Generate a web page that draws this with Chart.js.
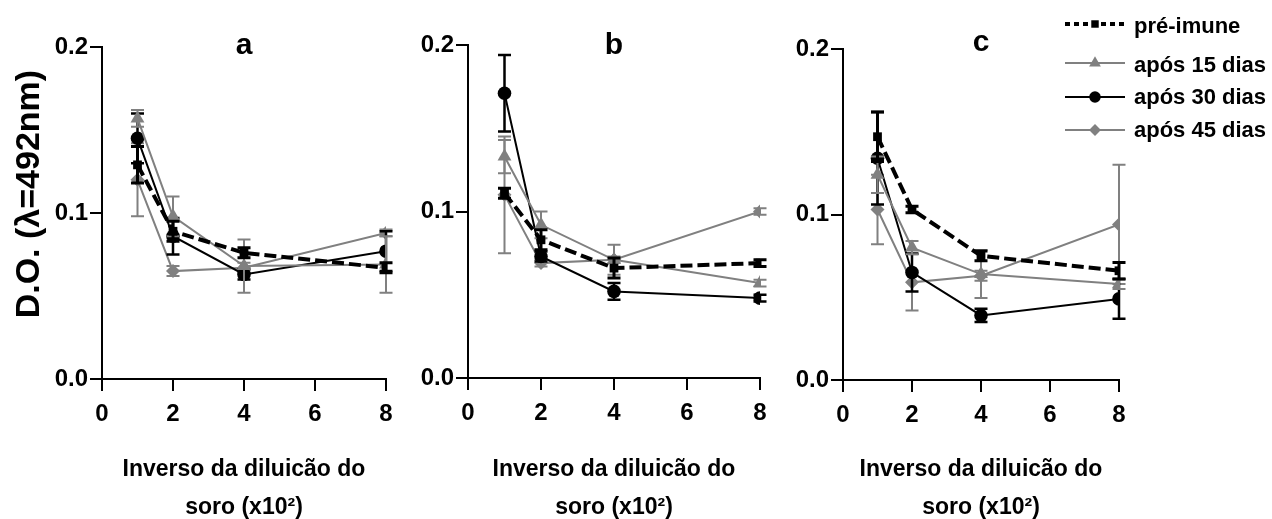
<!DOCTYPE html>
<html>
<head>
<meta charset="utf-8">
<script src="https://cdn.jsdelivr.net/npm/chart.js@4.4.1/dist/chart.umd.min.js"></script>
<style>
html, body { margin: 0; padding: 0; background: #fff; overflow: hidden; width: 1272px; height: 519px; }
.panel { position: absolute; top: 0; }
</style>
</head>
<body>
<canvas id="panelA" class="panel" style="left:0px" width="420" height="530"></canvas>
<canvas id="panelB" class="panel" style="left:410px" width="390" height="530"></canvas>
<canvas id="panelC" class="panel" style="left:790px" width="482" height="530"></canvas>
<script>
// ---------- data ----------
const X_VALUES = [1, 2, 4, 8];
const X_TICKS = [0, 2, 4, 6, 8];
const Y_TICKS = [0.0, 0.1, 0.2];
const SERIES_NAMES = ['pré-imune', 'após 15 dias', 'após 30 dias', 'após 45 dias'];
const PANEL_TITLES = ['a', 'b', 'c'];
const Y_TITLE = 'D.O. (λ=492nm)';
const X_TITLE = ['Inverso da diluicão do', 'soro (x10²)'];

// panel a
const A_PRE = [0.129, 0.089, 0.076, 0.067];
const A_PRE_ERR = [0.011, 0.006, 0.003, 0.003];
const A_D15 = [0.157, 0.098, 0.068, 0.069];
const A_D15_ERR = [0.005, 0.012, 0.016, 0.017];
const A_D30 = [0.145, 0.086, 0.063, 0.077];
const A_D30_ERR = [0.015, 0.011, 0.003, 0.012];
const A_D45 = [0.120, 0.065, 0.067, 0.088];
const A_D45_ERR = [0.022, 0.003, 0.003, 0.002];

// panel b
const B_PRE = [0.111, 0.083, 0.066, 0.069];
const B_PRE_ERR = [0.003, 0.006, 0.006, 0.002];
const B_D15 = [0.133, 0.092, 0.071, 0.057];
const B_D15_ERR = [0.010, 0.008, 0.009, 0.002];
const B_D30 = [0.171, 0.073, 0.052, 0.048];
const B_D30_ERR = [0.023, 0.003, 0.005, 0.002];
const B_D45 = [0.110, 0.069, 0.071, 0.100];
const B_D45_ERR = [0.035, 0.002, 0.002, 0.002];

// panel c
const C_PRE = [0.147, 0.103, 0.075, 0.066];
const C_PRE_ERR = [0.015, 0.002, 0.003, 0.005];
const C_D15 = [0.124, 0.080, 0.064, 0.058];
const C_D15_ERR = [0.011, 0.004, 0.0145, 0.003];
const C_D30 = [0.134, 0.065, 0.039, 0.049];
const C_D30_ERR = [0.028, 0.0115, 0.004, 0.012];
const C_D45 = [0.103, 0.059, 0.063, 0.094];
const C_D45_ERR = [0.021, 0.017, 0.003, 0.036];

// ---------- styles ----------
const GRAY = '#808080';
const STYLES = [
  { color: '#000', width: 4, dash: [12, 5], point: 'rect', radius: 6.2, errWidth: 3, legendDash: [5, 4] },
  { color: GRAY, width: 2, dash: [], point: 'triangle', radius: 8, errWidth: 2, legendDash: [] },
  { color: '#000', width: 2, dash: [], point: 'circle', radius: 6.8, errWidth: 2.5, legendDash: [] },
  { color: GRAY, width: 2, dash: [], point: 'rectRot', radius: 7, errWidth: 2, legendDash: [] }
];
const FONT = "'Liberation Sans', Arial, sans-serif";

function makeDatasets(values, errors) {
  return values.map((vals, s) => ({
    label: SERIES_NAMES[s],
    data: X_VALUES.map((x, i) => ({ x: x, y: vals[i] })),
    errors: errors[s],
    borderColor: STYLES[s].color,
    backgroundColor: STYLES[s].color,
    borderWidth: STYLES[s].width,
    borderDash: STYLES[s].dash,
    pointStyle: STYLES[s].point,
    pointRadius: STYLES[s].radius,
    pointHoverRadius: STYLES[s].radius,
    pointBorderWidth: 0,
    pointBackgroundColor: STYLES[s].color,
    errWidth: STYLES[s].errWidth,
    tension: 0,
    fill: false
  }));
}

const errorBarPlugin = {
  id: 'errorBars',
  beforeDatasetDraw(chart, args) {
    const ds = chart.data.datasets[args.index];
    if (!ds.errors) return;
    const ctx = chart.ctx;
    const yScale = chart.scales.y;
    const cap = 6.5;
    ctx.save();
    ctx.setLineDash([]);
    ctx.strokeStyle = ds.borderColor;
    ctx.lineWidth = ds.errWidth;
    args.meta.data.forEach((pt, i) => {
      const v = ds.data[i].y, e = ds.errors[i];
      const yHi = yScale.getPixelForValue(v + e);
      const yLo = yScale.getPixelForValue(v - e);
      const x = pt.x;
      ctx.beginPath();
      ctx.moveTo(x, yHi); ctx.lineTo(x, yLo);
      ctx.moveTo(x - cap, yHi); ctx.lineTo(x + cap, yHi);
      ctx.moveTo(x - cap, yLo); ctx.lineTo(x + cap, yLo);
      ctx.stroke();
    });
    ctx.restore();
  }
};

const legendPlugin = {
  id: 'sideLegend',
  afterDraw(chart, args, opts) {
    if (!opts || !opts.show) return;
    const ctx = chart.ctx;
    const rows = opts.rows;
    ctx.save();
    SERIES_NAMES.forEach((name, s) => {
      const st = STYLES[s];
      const ly = rows[s].line;
      ctx.strokeStyle = st.color;
      ctx.fillStyle = st.color;
      ctx.lineWidth = s === 0 ? 4 : 2;
      ctx.setLineDash(st.legendDash);
      ctx.beginPath();
      ctx.moveTo(opts.x0, ly);
      ctx.lineTo(opts.x1, ly);
      ctx.stroke();
      ctx.setLineDash([]);
      Chart.helpers.drawPoint(ctx, { pointStyle: st.point, radius: st.radius * 0.85, rotation: 0, borderWidth: 0 }, opts.xm, ly);
      ctx.fillStyle = '#000';
      ctx.font = 'bold 22px ' + FONT;
      ctx.textBaseline = 'alphabetic';
      ctx.textAlign = 'left';
      ctx.fillText(name, opts.xt, rows[s].base);
    });
    ctx.restore();
  }
};

function makePanel(id, cfg) {
  const canvas = document.getElementById(id);
  const H = canvas.height;
  const titleFont = 30;
  const titleTop = cfg.titleMid - titleFont / 2;
  return new Chart(canvas, {
    type: 'line',
    data: { datasets: makeDatasets(cfg.values, cfg.errors) },
    plugins: [errorBarPlugin, legendPlugin],
    options: {
      responsive: false,
      animation: false,
      devicePixelRatio: 1,
      layout: { padding: { left: 0, right: cfg.padRight, top: 0, bottom: 0 } },
      plugins: {
        legend: { display: false },
        tooltip: { enabled: false },
        title: {
          display: true,
          text: cfg.title,
          fullSize: false,
          color: '#000',
          font: { family: FONT, size: titleFont, weight: 'bold', lineHeight: 1 },
          padding: { top: titleTop, bottom: cfg.chartTop - titleFont - titleTop }
        },
        sideLegend: cfg.legend || { show: false }
      },
      scales: {
        x: {
          type: 'linear',
          min: 0, max: 8,
          afterBuildTicks: (sc) => { sc.ticks = X_TICKS.map(v => ({ value: v })); },
          afterFit: (sc) => { sc.height = H - cfg.chartBottom; },
          border: { display: true, color: '#000', width: 2 },
          grid: { display: true, drawOnChartArea: false, drawTicks: true, tickLength: 12, color: '#000', lineWidth: 2 },
          ticks: { color: '#000', padding: 9, maxRotation: 0, font: { family: FONT, size: 24, weight: 'bold' }, callback: (v) => String(v) },
          title: {
            display: true,
            text: X_TITLE,
            color: '#000',
            font: { family: FONT, size: 23, weight: 'bold', lineHeight: 38 / 23 },
            padding: { top: 0, bottom: 3 }
          }
        },
        y: {
          type: 'linear',
          min: 0, max: 0.2,
          afterBuildTicks: (sc) => { sc.ticks = Y_TICKS.map(v => ({ value: v })); },
          afterFit: (sc) => { sc.width = cfg.yWidth; },
          border: { display: true, color: '#000', width: 2 },
          grid: { display: true, drawOnChartArea: false, drawTicks: true, tickLength: 12, color: '#000', lineWidth: 2 },
          ticks: { color: '#000', padding: 2, font: { family: FONT, size: 24, weight: 'bold' }, callback: (v) => Number(v).toFixed(1) },
          title: {
            display: !!cfg.showYTitle,
            text: '    ' + Y_TITLE,
            color: '#000',
            font: { family: FONT, size: 34, weight: 'bold', lineHeight: 1 },
            padding: { top: 13, bottom: 0 }
          }
        }
      }
    }
  });
}

makePanel('panelA', {
  title: PANEL_TITLES[0],
  values: [A_PRE, A_D15, A_D30, A_D45],
  errors: [A_PRE_ERR, A_D15_ERR, A_D30_ERR, A_D45_ERR],
  yWidth: 102, padRight: 34, chartTop: 47, chartBottom: 379, titleMid: 46, showYTitle: true
});
makePanel('panelB', {
  title: PANEL_TITLES[1],
  values: [B_PRE, B_D15, B_D30, B_D45],
  errors: [B_PRE_ERR, B_D15_ERR, B_D30_ERR, B_D45_ERR],
  yWidth: 58, padRight: 40, chartTop: 45, chartBottom: 378, titleMid: 46
});
makePanel('panelC', {
  title: PANEL_TITLES[2],
  values: [C_PRE, C_D15, C_D30, C_D45],
  errors: [C_PRE_ERR, C_D15_ERR, C_D30_ERR, C_D45_ERR],
  yWidth: 53, padRight: 153, chartTop: 49, chartBottom: 380, titleMid: 43,
  legend: {
    show: true,
    x0: 1065 - 790, x1: 1125 - 790, xm: 1095 - 790, xt: 1134 - 790,
    rows: [ { line: 24, base: 33 }, { line: 63, base: 72 }, { line: 97, base: 104 }, { line: 130, base: 137 } ]
  }
});
</script>
</body>
</html>
